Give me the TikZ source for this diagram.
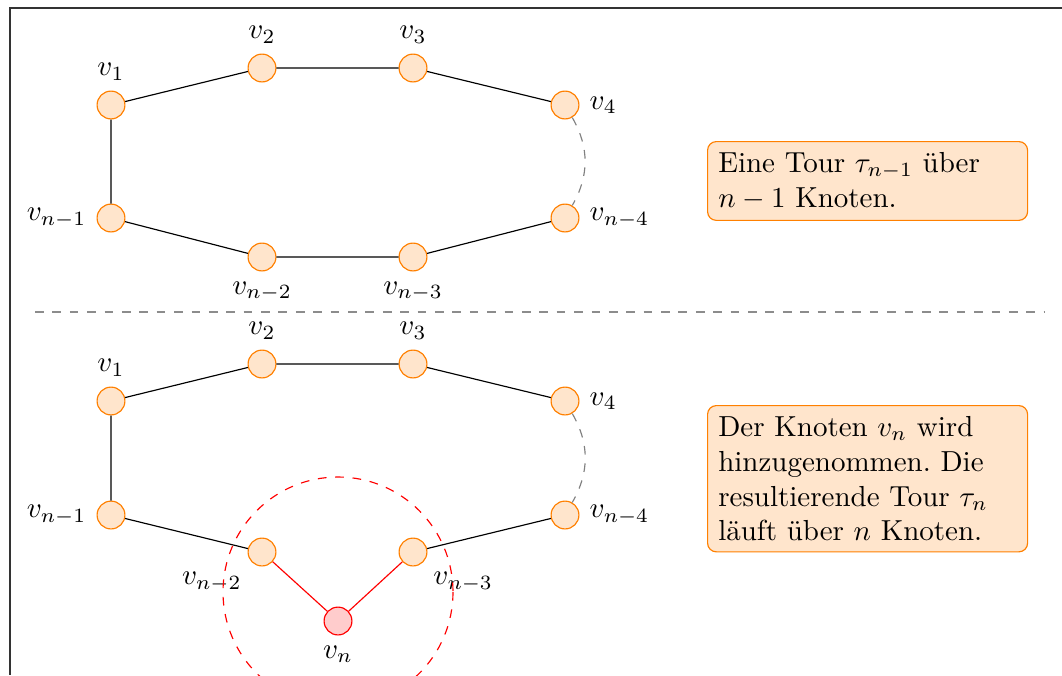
\documentclass[tikz,border=0pt]{standalone}
\usepackage{amsmath}
\usetikzlibrary{positioning}

\tikzset{
  knoten/.style={circle, draw=orange, fill=orange!20, minimum size=9.6pt, inner sep=0pt},
  neu/.style={circle, draw=red, fill=red!20, minimum size=9.6pt, inner sep=0pt},
  infobox/.style={draw=orange, fill=orange!20, rounded corners=3pt, align=left,
                  text width=3.62cm, inner sep=3.7pt, anchor=north west},
}

\begin{document}
\begin{tikzpicture}[x=0.345pt, y=-0.345pt]
  \useasboundingbox (0,0) rectangle (1062,675);
  % frame (cut at the right and bottom)
  \draw[black!80] (1062,8) -- (10,8) -- (10,675);

  % tour over n-1 nodes
  \node[knoten, label=above:$v_1$]       (a1) at (111,105) {};
  \node[knoten, label=above:$v_2$]       (a2) at (262,68) {};
  \node[knoten, label=above:$v_3$]       (a3) at (413,68) {};
  \node[knoten, label=right:$v_4$]       (a4) at (565,105) {};
  \node[knoten, label=right:$v_{n-4}$]   (a5) at (565,218) {};
  \node[knoten, label=below:$v_{n-3}$]   (a6) at (413,257) {};
  \node[knoten, label=below:$v_{n-2}$]   (a7) at (262,257) {};
  \node[knoten, label=left:$v_{n-1}$]    (a8) at (111,218) {};
  \draw (a1) -- (a2) -- (a3) -- (a4);
  \draw (a5) -- (a6) -- (a7) -- (a8) -- (a1);
  \draw[gray, dashed] (a4) to[bend left=30] (a5);
  \node[infobox] (txt1) at (707,141) {Eine Tour $\tau_{n-1}$ über\\ $n-1$ Knoten.};

  % separator
  \coordinate (s1) at (35,312);
  \coordinate (s2) at (1045,312);
  \draw[gray!90, dashed] (s1) -- (s2);

  % tour over n nodes
  \node[knoten, label=above:$v_1$]           (b1) at (111,401) {};
  \node[knoten, label=above:$v_2$]           (b2) at (262,364) {};
  \node[knoten, label=above:$v_3$]           (b3) at (413,364) {};
  \node[knoten, label=right:$v_4$]           (b4) at (565,401) {};
  \node[knoten, label=right:$v_{n-4}$]       (b5) at (565,515) {};
  \node[knoten, label=below right:$v_{n-3}$] (b6) at (413,552) {};
  \node[knoten, label=below left:$v_{n-2}$]  (b7) at (262,552) {};
  \node[knoten, label=left:$v_{n-1}$]        (b8) at (111,515) {};
  \node[neu, label=below:$v_n$]              (bn) at (338,621) {};
  \draw (b1) -- (b2) -- (b3) -- (b4);
  \draw (b5) -- (b6);
  \draw (b7) -- (b8) -- (b1);
  \draw[gray, dashed] (b4) to[bend left=30] (b5);
  \draw[red] (b7) -- (bn) -- (b6);
  \draw[red, dashed] (338,592) circle (115);
  \node[infobox] (txt2) at (707,405) {\frenchspacing Der Knoten $v_n$ wird hinzugenommen. Die resultierende Tour $\tau_n$ läuft über $n$ Knoten.};
\end{tikzpicture}
\end{document}
